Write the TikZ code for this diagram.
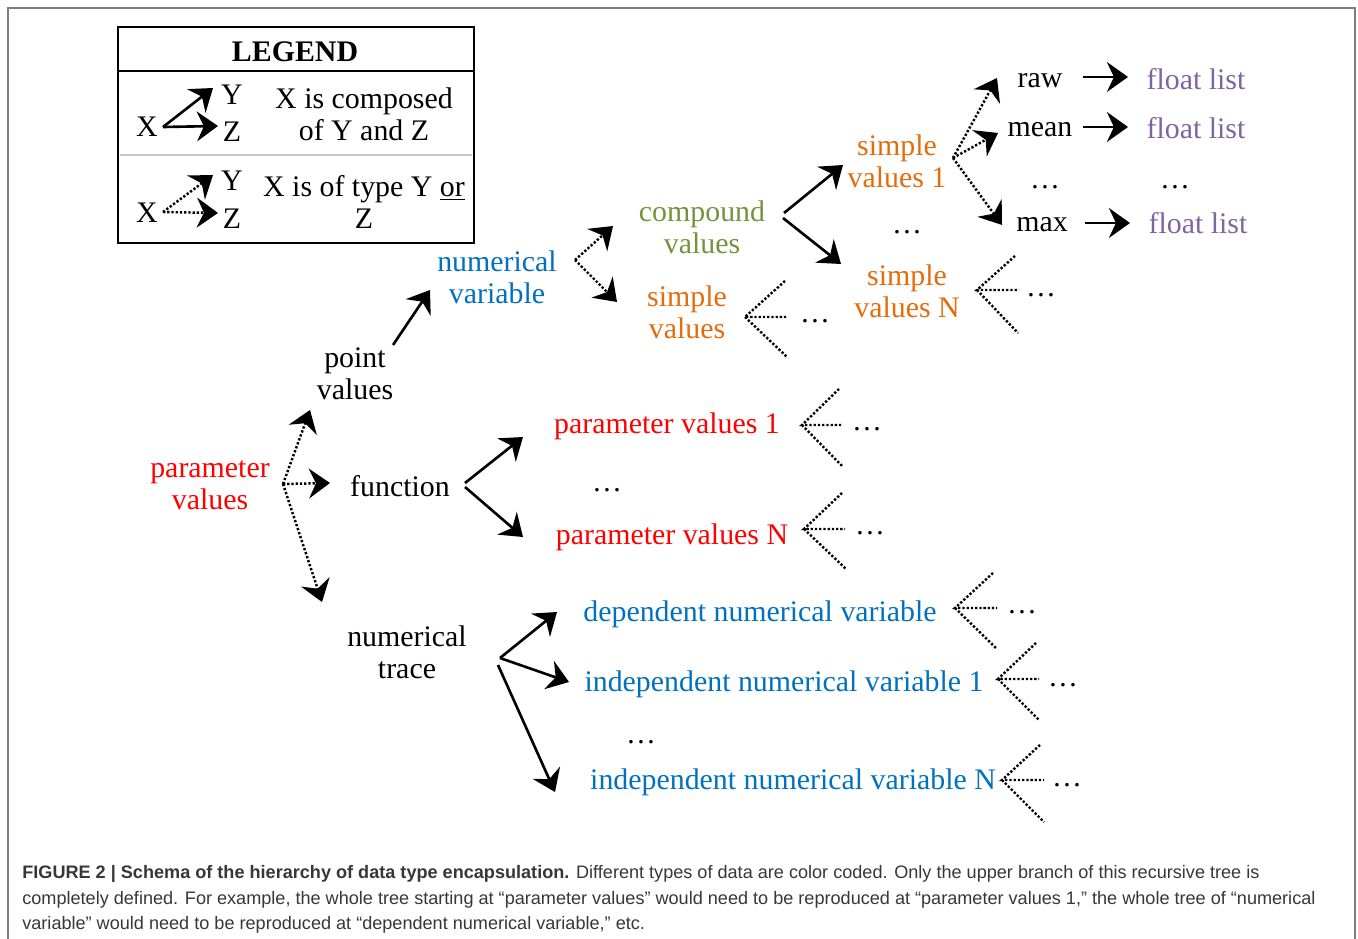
\documentclass[tikz,border=0pt]{standalone}
\usepackage{fontspec}
\setmainfont{Liberation Serif}
\newfontfamily\capfont{Liberation Sans}
\usetikzlibrary{arrows.meta,calc}

\definecolor{pvred}{RGB}{255,0,0}
\definecolor{nvblue}{RGB}{0,112,192}
\definecolor{cvgreen}{RGB}{118,146,60}
\definecolor{svorange}{RGB}{228,108,10}
\definecolor{flpurple}{RGB}{128,100,162}
\definecolor{capgray}{RGB}{55,55,55}
\definecolor{framegray}{RGB}{125,125,125}

\tikzset{
  lbl/.style={inner sep=0pt, align=center, font=\fontsize{17}{18.1}\selectfont},
  composed/.style={line width=1.5pt, -{Stealth[length=12pt,width=17pt,inset=4pt]}},
  oftype/.style={line width=1.4pt, dash pattern=on 1.3pt off 1.1pt, -{Stealth[length=12pt,width=17pt,inset=4pt]}},
  fanline/.style={line width=1.4pt, dash pattern=on 1.3pt off 1.1pt},
}

\begin{document}
\begin{tikzpicture}[x=0.02cm,y=-0.02cm]
  \useasboundingbox (0,0) rectangle (1358,939);
  \draw[framegray, line width=0.8pt] (8,960) -- (8,8) -- (1355,8) -- (1355,960);

  % legend
  \draw[line width=1.6pt] (118,27) rectangle (474,243);
  \draw[line width=1.6pt] (118,71) -- (474,71);
  \draw[line width=1.6pt, black!22] (120,155) -- (472,155);
  \node[lbl, font=\fontsize{17}{18.1}\selectfont\bfseries] (legend) at (295,52) {LEGEND};
  \node[lbl] (lx1) at (147,127) {X};
  \node[lbl] (ly1) at (232,95) {Y};
  \node[lbl] (lz1) at (232,132) {Z};
  \node[lbl] (ltxt1) at (364,114) {X is composed\\of Y and Z};
  \node[lbl] (lx2) at (147,213) {X};
  \node[lbl] (ly2) at (232,181) {Y};
  \node[lbl] (lz2) at (232,219) {Z};
  \node[lbl] (ltxt2) at (364,202) {X is of type Y \underline{or}\\Z};
  \draw[composed] ($(lx1)+(16,0)$) -- ($(ly1)+(-19,-7)$);
  \draw[composed] ($(lx1)+(16,0)$) -- ($(lz1)+(-14,-6)$);
  \draw[oftype] ($(lx2)+(16,-1)$) -- ($(ly2)+(-19,-6)$);
  \draw[oftype] ($(lx2)+(16,-1)$) -- ($(lz2)+(-14,-6)$);

  % tree
  \node[lbl, text=pvred] (parval) at (210,485) {parameter\\values};
  \node[lbl] (point) at (355,374) {point\\values};
  \node[lbl] (fun) at (400,486) {function};
  \node[lbl] (trace) at (407,652) {numerical\\trace};
  \node[lbl, text=nvblue] (numvar) at (497,277) {numerical\\variable};
  \node[lbl, text=cvgreen] (cmpd) at (702,227) {compound\\values};
  \node[lbl, text=svorange] (simple) at (687,312) {simple\\values};
  \node[lbl] (simpledots) at (815,321) {…};
  \node[lbl, text=svorange] (sv1) at (897,161) {simple\\values 1};
  \node[lbl] (svdots) at (907,232) {…};
  \node[lbl, text=svorange] (svN) at (907,291) {simple\\values N};
  \node[lbl] (svNdots) at (1041,295) {…};
  \node[lbl] (raw) at (1040,81) {raw};
  \node[lbl] (mean) at (1040,130) {mean};
  \node[lbl] (statdots) at (1045,187) {…};
  \node[lbl] (max) at (1042,225) {max};
  \node[lbl, text=flpurple] (fl1) at (1196,79) {float list};
  \node[lbl, text=flpurple] (fl2) at (1196,128) {float list};
  \node[lbl] (fldots) at (1175,187) {…};
  \node[lbl, text=flpurple] (fl3) at (1198,223) {float list};
  \node[lbl, text=pvred] (pv1) at (667,426) {parameter values 1};
  \node[lbl] (pv1dots) at (867,429) {…};
  \node[lbl] (pvdots) at (607,490) {…};
  \node[lbl, text=pvred] (pvN) at (672,537) {parameter values N};
  \node[lbl] (pvNdots) at (870,533) {…};
  \node[lbl, text=nvblue] (dep) at (760,614) {dependent numerical variable};
  \node[lbl] (depdots) at (1022,612) {…};
  \node[lbl, text=nvblue] (ind1) at (784,684) {independent numerical variable 1};
  \node[lbl] (ind1dots) at (1063,685) {…};
  \node[lbl] (inddots) at (641,742) {…};
  \node[lbl, text=nvblue] (indN) at (793,782) {independent numerical variable N};
  \node[lbl] (indNdots) at (1067,785) {…};

  \draw[oftype] ($(parval)+(73,-1)$) -- ($(point)+(-45,36)$);
  \draw[oftype] ($(parval)+(73,-1)$) -- ($(fun)+(-70,-3)$);
  \draw[oftype] ($(parval)+(73,-1)$) -- ($(trace)+(-85,-50)$);
  \draw[composed] ($(point)+(38,-29)$) -- ($(numvar)+(-67,13)$);
  \draw[composed] ($(fun)+(65,-3)$) -- ($(pv1)+(-144,11)$);
  \draw[composed] ($(fun)+(65,1)$) -- ($(pvN)+(-149,0)$);
  \draw[composed] ($(trace)+(93,6)$) -- ($(dep)+(-203,-2)$);
  \draw[composed] ($(trace)+(93,6)$) -- ($(ind1)+(-215,-2)$);
  \draw[composed] ($(trace)+(91,13)$) -- ($(indN)+(-238,10)$);
  \draw[oftype] ($(numvar)+(78,-17)$) -- ($(cmpd)+(-89,-1)$);
  \draw[oftype] ($(numvar)+(78,-17)$) -- ($(simple)+(-70,-10)$);
  \draw[composed] ($(cmpd)+(82,-14)$) -- ($(sv1)+(-54,4)$);
  \draw[composed] ($(cmpd)+(81,-9)$) -- ($(svN)+(-66,-27)$);
  \draw[oftype] ($(sv1)+(56,-3)$) -- ($(raw)+(-43,-3)$);
  \draw[oftype] ($(sv1)+(56,-3)$) -- ($(mean)+(-42,3)$);
  \draw[oftype] ($(sv1)+(56,-3)$) -- ($(max)+(-40,0)$);
  \draw[composed] ($(raw)+(43,-4)$) -- ($(fl1)+(-68,-2)$);
  \draw[composed] ($(mean)+(43,-3)$) -- ($(fl2)+(-68,-1)$);
  \draw[composed] ($(max)+(43,-2)$) -- ($(fl3)+(-68,0)$);

  % recursive fans
  \draw[fanline] ($(simple)+(58,5)$) +(40,-36) -- +(0,0) -- +(42,0) +(0,0) -- +(42,40);
  \draw[fanline] ($(svN)+(70,-1)$) +(38,-34) -- +(0,0) -- +(42,0) +(0,0) -- +(41,43);
  \draw[fanline] ($(pv1)+(135,-1)$) +(37,-36) -- +(0,0) -- +(41,0) +(0,0) -- +(41,42);
  \draw[fanline] ($(pvN)+(132,-8)$) +(38,-36) -- +(0,0) -- +(41,0) +(0,0) -- +(42,40);
  \draw[fanline] ($(dep)+(195,-6)$) +(38,-35) -- +(0,0) -- +(42,0) +(0,0) -- +(42,41);
  \draw[fanline] ($(ind1)+(214,-5)$) +(38,-36) -- +(0,0) -- +(41,0) +(0,0) -- +(41,41);
  \draw[fanline] ($(indN)+(209,-2)$) +(38,-35) -- +(0,0) -- +(42,0) +(0,0) -- +(42,42);

  % caption
  \tikzset{capline/.style={anchor=base west, inner sep=0pt, text=capgray, font=\capfont\fontsize{10.3}{12}\selectfont}}
  \node[capline] (cap1) at (22,878) {\textbf{FIGURE 2 | Schema of the hierarchy of data type encapsulation.} Different types of data are color coded. Only the upper branch of this recursive tree is};
  \node[capline] (cap2) at (22,904) {completely defined. For example, the whole tree starting at “parameter values” would need to be reproduced at “parameter values 1,” the whole tree of “numerical};
  \node[capline] (cap3) at (22,929) {variable” would need to be reproduced at “dependent numerical variable,” etc.};
\end{tikzpicture}
\end{document}
